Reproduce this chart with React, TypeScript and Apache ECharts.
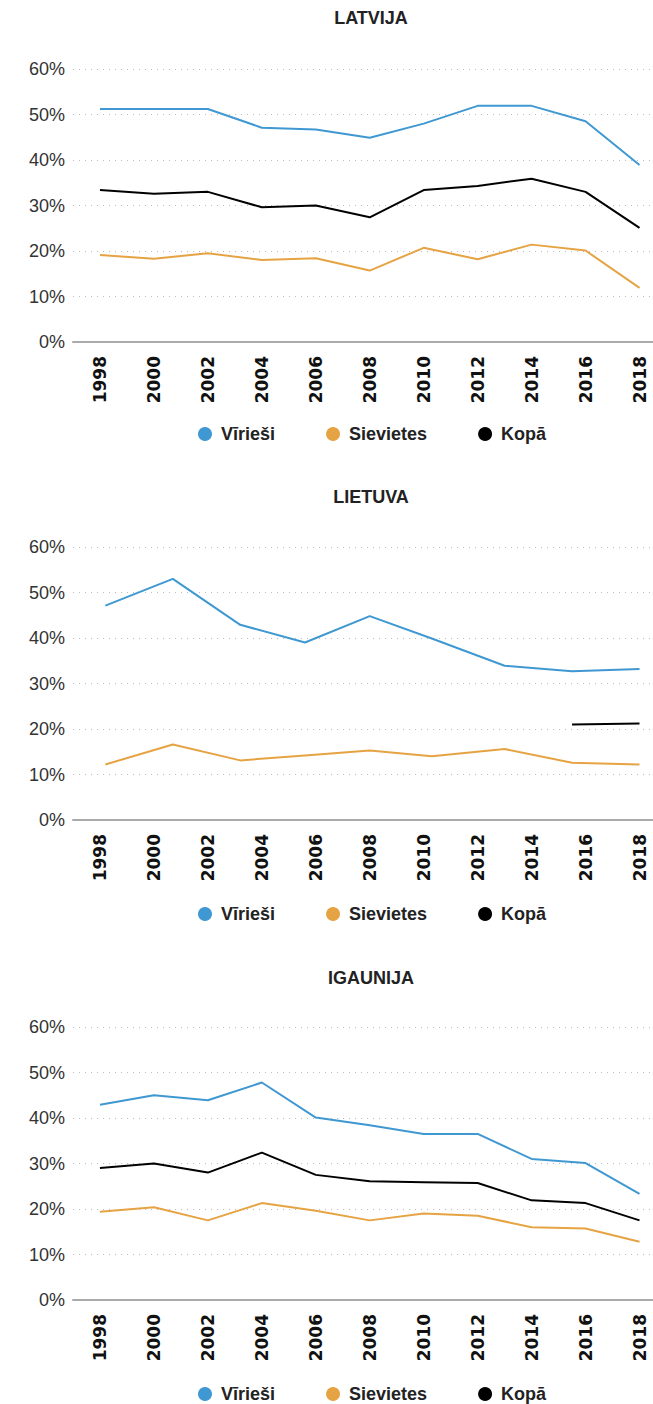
import React, { useEffect, useRef } from "react";
import * as echarts from "echarts";

// ---- data ----
const YEAR_TICKS = [1998, 2000, 2002, 2004, 2006, 2008, 2010, 2012, 2014, 2016, 2018];
const Y_TICKS = [0, 10, 20, 30, 40, 50, 60];
const SERIES_NAMES = ["Vīrieši", "Sievietes", "Kopā"];
const COUNTRY_TITLES = ["LATVIJA", "LIETUVA", "IGAUNIJA"];

// Latvia
const LV_YEARS = [1998, 2000, 2002, 2004, 2006, 2008, 2010, 2012, 2014, 2016, 2018];
const LV_MEN = [51.2, 51.2, 51.2, 47.1, 46.7, 44.9, 48.0, 51.9, 51.9, 48.5, 38.9];
const LV_WOMEN = [19.1, 18.3, 19.5, 18.0, 18.4, 15.7, 20.7, 18.2, 21.4, 20.1, 11.9];
const LV_TOTAL = [33.4, 32.6, 33.0, 29.6, 30.0, 27.4, 33.4, 34.3, 35.9, 33.0, 25.1];

// Lithuania
const LT_YEARS = [1998.2, 2000.7, 2003.2, 2005.6, 2008, 2010.3, 2013, 2015.5, 2018];
const LT_MEN = [47.1, 53.0, 42.9, 39.0, 44.8, 39.9, 33.9, 32.7, 33.2];
const LT_WOMEN = [12.2, 16.6, 13.1, 14.2, 15.3, 14.0, 15.6, 12.6, 12.2];
const LT_TOTAL = [null, null, null, null, null, null, null, 21.0, 21.2];

// Estonia
const EE_YEARS = [1998, 2000, 2002, 2004, 2006, 2008, 2010, 2012, 2014, 2016, 2018];
const EE_MEN = [42.9, 45.0, 43.9, 47.8, 40.1, 38.4, 36.5, 36.5, 31.0, 30.1, 23.3];
const EE_WOMEN = [19.4, 20.4, 17.5, 21.3, 19.6, 17.5, 19.0, 18.5, 16.0, 15.7, 12.8];
const EE_TOTAL = [29.0, 30.0, 28.0, 32.4, 27.5, 26.1, 25.9, 25.7, 21.9, 21.3, 17.5];

const COLORS = ["#3f98d1", "#e6a343", "#000000"];

const PANELS = [
  { years: LV_YEARS, values: [LV_MEN, LV_WOMEN, LV_TOTAL] },
  { years: LT_YEARS, values: [LT_MEN, LT_WOMEN, LT_TOTAL] },
  { years: EE_YEARS, values: [EE_MEN, EE_WOMEN, EE_TOTAL] },
];

// ---- layout ----
const W = 653;
const H = 1404;
const GRID_TOPS = [69, 547, 1027];
const GRID_H = 273;
const TITLE_TOPS = [9, 488, 969];
const LEGEND_TOPS = [425, 905, 1385];

const pair = (xs: number[], ys: (number | null)[]) =>
  xs.map((x, i) => [x, ys[i] === null ? "-" : ys[i]]);

export default function App() {
  const ref = useRef<HTMLDivElement>(null);

  useEffect(() => {
    if (!ref.current) return;
    const chart = echarts.init(ref.current, null, { renderer: "svg" });

    const grid: any[] = [];
    const xAxis: any[] = [];
    const yAxis: any[] = [];
    const series: any[] = [];
    const title: any[] = [];
    const legend: any[] = [];

    PANELS.forEach((p, gi) => {
      grid.push({ left: 73, right: 0, top: GRID_TOPS[gi], height: GRID_H });
      title.push({
        text: COUNTRY_TITLES[gi],
        left: 371,
        top: TITLE_TOPS[gi],
        textAlign: "center",
        padding: 0,
        textStyle: {
          fontFamily: "Liberation Sans",
          fontWeight: "bold",
          fontSize: 18,
          color: "#222",
        },
      });
      legend.push({
        data: SERIES_NAMES,
        left: 198,
        top: LEGEND_TOPS[gi],
        padding: 0,
        icon: "circle",
        itemWidth: 14,
        itemHeight: 14,
        itemGap: 51,
        textStyle: {
          fontFamily: "Liberation Sans",
          fontWeight: "bold",
          fontSize: 18,
          color: "#222",
          padding: [0, 0, 0, 4],
        },
      });
      xAxis.push({
        type: "value",
        gridIndex: gi,
        min: 1997,
        max: 2018.5,
        axisLine: { show: true, lineStyle: { color: "#aaaaaa", width: 2 } },
        axisTick: { show: false },
        splitLine: { show: false },
        axisLabel: {
          customValues: YEAR_TICKS,
          rotate: 90,
          margin: 14,
          fontFamily: "DejaVu Sans",
          fontWeight: "bold",
          fontSize: 17,
          color: "#111",
          formatter: (v: number) => String(Math.round(v)),
        },
      });
      yAxis.push({
        type: "value",
        gridIndex: gi,
        min: Y_TICKS[0],
        max: Y_TICKS[Y_TICKS.length - 1],
        interval: 10,
        axisLine: { show: false },
        axisTick: { show: false },
        axisLabel: {
          formatter: "{value}%",
          margin: 8,
          fontFamily: "Liberation Sans",
          fontSize: 18,
          color: "#333",
        },
        splitLine: {
          show: true,
          lineStyle: { color: "#bbbbbb", width: 1, type: [1, 5] },
        },
      });
      SERIES_NAMES.forEach((name, si) => {
        series.push({
          type: "line",
          name,
          xAxisIndex: gi,
          yAxisIndex: gi,
          data: pair(p.years, p.values[si] as (number | null)[]),
          showSymbol: false,
          symbol: "none",
          connectNulls: false,
          lineStyle: { color: COLORS[si], width: 2 },
          itemStyle: { color: COLORS[si] },
          z: 3 - si,
        });
      });
    });

    chart.setOption({
      animation: false,
      backgroundColor: "#ffffff",
      title,
      legend,
      grid,
      xAxis,
      yAxis,
      series,
    });

    return () => chart.dispose();
  }, []);

  return (
    <div
      ref={ref}
      style={{ position: "absolute", left: 0, top: 0, width: W, height: H }}
    />
  );
}
